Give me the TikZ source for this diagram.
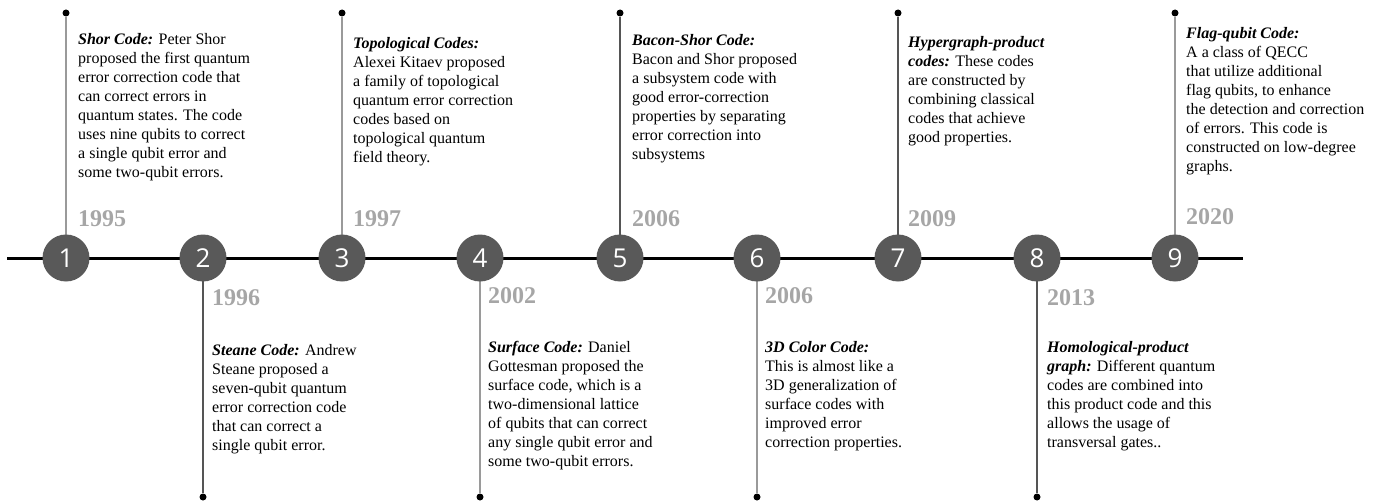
\documentclass[tikz,border=0pt]{standalone}
\usepackage{fontspec}
\setmainfont{Liberation Serif}
\newfontfamily\numfont{Open Sans}
\definecolor{circfill}{HTML}{595959}
\definecolor{yearcol}{HTML}{A6A6A6}
\definecolor{stemA}{HTML}{9A9A9A}
\definecolor{stemB}{HTML}{555555}
\tikzset{
  milestone/.style={circle, fill=circfill, minimum size=47pt, inner sep=0pt, text=white, font=\numfont\fontsize{26}{26}\selectfont},
  enddot/.style={circle, fill=black, minimum size=7pt, inner sep=0pt},
  stem/.style={line width=1.2pt},
  yearlbl/.style={anchor=base west, inner sep=0pt, text=yearcol, font=\bfseries\fontsize{24}{24}\selectfont},
  desc/.style={anchor=north west, inner sep=0pt, align=left, font=\fontsize{16}{19}\selectfont},
  axis/.style={line width=3pt, black}
}
\newcommand{\ttl}[1]{\textbf{\textit{#1}}}
\begin{document}
\begin{tikzpicture}[x=1pt,y=-1pt]
\useasboundingbox (0,0) rectangle (1377,503);
% timeline
\coordinate (L) at (7,258);
\coordinate (R) at (1243,258);
\draw[axis] (L) -- (R);
% end dots
\node[enddot] (d1) at (66,13) {};
\node[enddot] (d2) at (203,497) {};
\node[enddot] (d3) at (342,13) {};
\node[enddot] (d4) at (480,497) {};
\node[enddot] (d5) at (620,13) {};
\node[enddot] (d6) at (757,497) {};
\node[enddot] (d7) at (898,13) {};
\node[enddot] (d8) at (1037,497) {};
\node[enddot] (d9) at (1175,13) {};
% milestone positions
\coordinate (p1) at (66,258);
\coordinate (p2) at (203,258);
\coordinate (p3) at (342,258);
\coordinate (p4) at (480,258);
\coordinate (p5) at (620,258);
\coordinate (p6) at (757,258);
\coordinate (p7) at (898,258);
\coordinate (p8) at (1037,258);
\coordinate (p9) at (1175,258);
% stems
\draw[stem, stemA] (d1) -- (p1);
\draw[stem, stemB] (d2) -- (p2);
\draw[stem, stemA] (d3) -- (p3);
\draw[stem, stemA] (d4) -- (p4);
\draw[stem, stemB] (d5) -- (p5);
\draw[stem, stemA] (d6) -- (p6);
\draw[stem, stemB] (d7) -- (p7);
\draw[stem, stemB] (d8) -- (p8);
\draw[stem, stemA] (d9) -- (p9);
% circles
\node[milestone] (c1) at (p1) {1};
\node[milestone] (c2) at (p2) {2};
\node[milestone] (c3) at (p3) {3};
\node[milestone] (c4) at (p4) {4};
\node[milestone] (c5) at (p5) {5};
\node[milestone] (c6) at (p6) {6};
\node[milestone] (c7) at (p7) {7};
\node[milestone] (c8) at (p8) {8};
\node[milestone] (c9) at (p9) {9};
% years
\node[yearlbl] (y1) at (78,226) {1995};
\node[yearlbl] (y2) at (212,305) {1996};
\node[yearlbl] (y3) at (353,226) {1997};
\node[yearlbl] (y4) at (488,303) {2002};
\node[yearlbl] (y5) at (632,226) {2006};
\node[yearlbl] (y6) at (765,303) {2006};
\node[yearlbl] (y7) at (908,226) {2009};
\node[yearlbl] (y8) at (1047,305) {2013};
\node[yearlbl] (y9) at (1186,224) {2020};
% descriptions
\node[desc] (t1) at (78,33) {\ttl{Shor Code:} Peter Shor\\proposed the first quantum\\error correction code that\\can correct errors in\\quantum states. The code\\uses nine qubits to correct\\a single qubit error and\\some two-qubit errors.};
\node[desc] (t3) at (353,37) {\ttl{Topological Codes:}\\Alexei Kitaev proposed\\a family of topological\\quantum error correction\\codes based on\\topological quantum\\field theory.};
\node[desc] (t5) at (632,34) {\ttl{Bacon-Shor Code:}\\Bacon and Shor proposed\\a subsystem code with\\good error-correction\\properties by separating\\error correction into\\subsystems};
\node[desc] (t7) at (908,36) {\ttl{Hypergraph-product}\\\ttl{codes:} These codes\\are constructed by\\combining classical\\codes that achieve\\good properties.};
\node[desc] (t9) at (1186,27) {\ttl{Flag-qubit Code:}\\A a class of QECC\\that utilize additional\\flag qubits, to enhance\\the detection and correction\\of errors. This code is\\constructed on low-degree\\graphs.};
\node[desc] (t2) at (212,344) {\ttl{Steane Code:} Andrew\\Steane proposed a\\seven-qubit quantum\\error correction code\\that can correct a\\single qubit error.};
\node[desc] (t4) at (488,341) {\ttl{Surface Code:} Daniel\\Gottesman proposed the\\surface code, which is a\\two-dimensional lattice\\of qubits that can correct\\any single qubit error and\\some two-qubit errors.};
\node[desc] (t6) at (765,341) {\ttl{3D Color Code:}\\This is almost like a\\3D generalization of\\surface codes with\\improved error\\correction properties.};
\node[desc] (t8) at (1047,341) {\ttl{Homological-product}\\\ttl{graph:} Different quantum\\codes are combined into\\this product code and this\\allows the usage of\\transversal gates..};
\end{tikzpicture}
\end{document}
